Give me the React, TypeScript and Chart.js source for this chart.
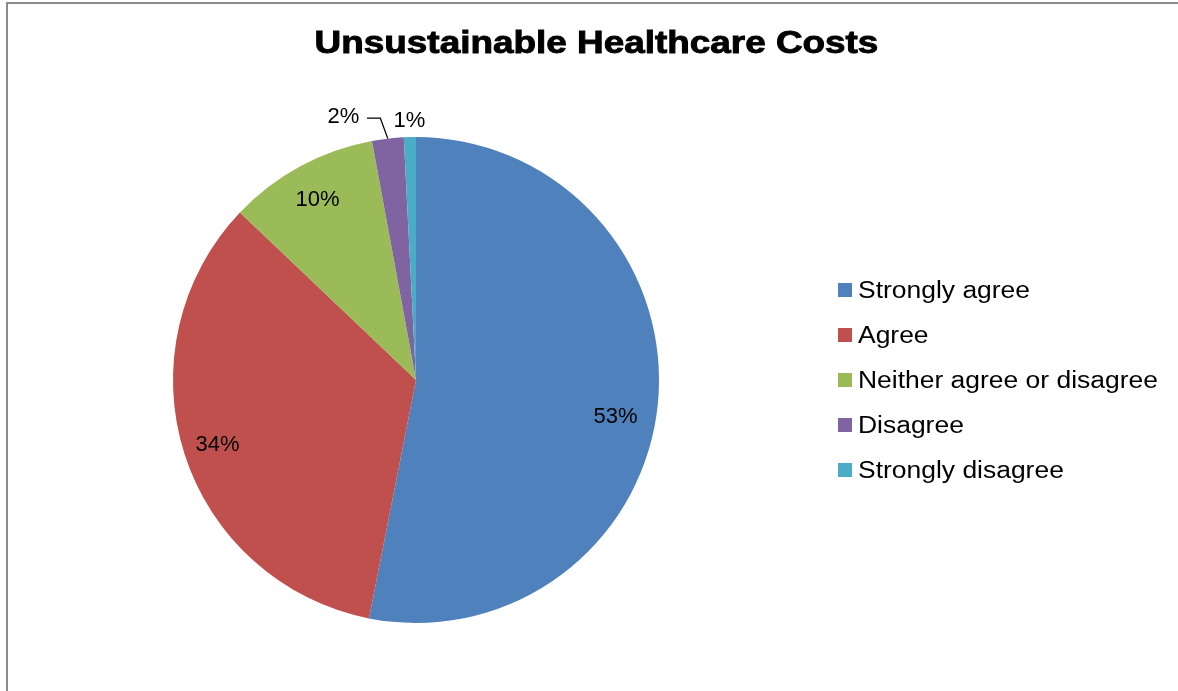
import React, { useEffect, useRef } from "react";
import { Chart, registerables } from "chart.js";

Chart.register(...registerables);

const title = "Unsustainable Healthcare Costs";
const categories = ["Strongly agree", "Agree", "Neither agree or disagree", "Disagree", "Strongly disagree"];
const values = [53.1, 34.0, 10.0, 2.1, 0.8];
const colors = ["#4F81BD", "#C0504D", "#9BBB59", "#8064A2", "#4BACC6"];

const FONT = '"Liberation Sans", Arial, Helvetica, sans-serif';

const overlayPlugin = {
  id: "overlay",
  beforeDraw(chart: any) {
    const ctx = chart.ctx;
    ctx.save();
    ctx.fillStyle = "#ffffff";
    ctx.fillRect(0, 0, chart.width, chart.height);
    ctx.strokeStyle = "#8c8c8c";
    ctx.lineWidth = 2;
    ctx.beginPath();
    ctx.moveTo(7, chart.height);
    ctx.lineTo(7, 3);
    ctx.lineTo(chart.width, 3);
    ctx.stroke();
    ctx.restore();
  },
  afterDraw(chart: any, _args: any, opts: any) {
    const ctx = chart.ctx;
    // Title
    ctx.save();
    ctx.fillStyle = "#000000";
    ctx.strokeStyle = "#000000";
    ctx.lineWidth = 0.9;
    ctx.font = `bold 31px ${FONT}`;
    ctx.textAlign = "center";
    ctx.textBaseline = "alphabetic";
    ctx.translate(opts.titleX, opts.titleY);
    ctx.scale(1.19, 1);
    ctx.fillText(title, 0, 0);
    ctx.strokeText(title, 0, 0);
    ctx.restore();

    // Legend
    ctx.save();
    ctx.font = `23px ${FONT}`;
    ctx.textBaseline = "alphabetic";
    ctx.textAlign = "left";
    categories.forEach((c, i) => {
      const yc = opts.legendY + i * opts.legendGap;
      ctx.fillStyle = colors[i];
      ctx.fillRect(opts.legendX, yc - 7, 14, 14);
      ctx.fillStyle = "#000000";
      ctx.save();
      ctx.translate(opts.legendX + 20, yc + 8);
      ctx.scale(1.15, 1);
      ctx.fillText(c, 0, 0);
      ctx.restore();
    });
    ctx.restore();

    // Data labels
    const meta = chart.getDatasetMeta(0);
    ctx.save();
    ctx.font = `22px ${FONT}`;
    ctx.textAlign = "center";
    ctx.textBaseline = "alphabetic";
    ctx.fillStyle = "#000000";
    meta.data.forEach((arc: any, i: number) => {
      const p = arc.getProps(["x", "y", "startAngle", "endAngle", "outerRadius"], true);
      const mid = (p.startAngle + p.endAngle) / 2;
      const pl = opts.placements[i];
      const text = Math.round(values[i]) + "%";
      let lx: number, ly: number;
      if (pl.leader) {
        const px = p.x + Math.cos(mid) * p.outerRadius;
        const py = p.y + Math.sin(mid) * p.outerRadius;
        lx = px + pl.dx;
        ly = py + pl.dy;
        ctx.save();
        ctx.strokeStyle = "#000000";
        ctx.lineWidth = 1.3;
        ctx.beginPath();
        ctx.moveTo(px, py);
        ctx.lineTo(px - 7.5, ly + 3);
        ctx.lineTo(lx + 23.5, ly + 3);
        ctx.stroke();
        ctx.restore();
      } else {
        lx = p.x + Math.cos(mid) * p.outerRadius * pl.f + (pl.dx || 0);
        ly = p.y + Math.sin(mid) * p.outerRadius * pl.f + (pl.dy || 0);
      }
      ctx.fillText(text, lx, ly + 8);
    });
    ctx.restore();
  },
};

export default function App() {
  const ref = useRef<HTMLCanvasElement | null>(null);
  useEffect(() => {
    if (!ref.current) return;
    const chart = new Chart(ref.current, {
      type: "pie",
      data: {
        labels: categories,
        datasets: [
          {
            data: values,
            backgroundColor: colors,
            borderWidth: 0,
          },
        ],
      },
      options: {
        responsive: false,
        animation: false,
        layout: { padding: { left: 173, top: 137, right: 519, bottom: 68 } },
        plugins: {
          legend: { display: false },
          title: { display: false },
          tooltip: { enabled: false },
          overlay: {
            titleX: 596.5,
            titleY: 53,
            legendX: 838,
            legendY: 290,
            legendGap: 45,
            placements: [
              { f: 0.85, dx: -6, dy: 15 },
              { f: 0.857 },
              { f: 0.85 },
              { leader: true, dx: -44.3, dy: -23.6 },
              { f: 1.075 },
            ],
          },
        } as any,
      },
      plugins: [overlayPlugin],
    });
    return () => chart.destroy();
  }, []);
  return (
    <div style={{ position: "fixed", left: 0, top: 0, width: 1178, height: 691, background: "#fff" }}>
      <canvas ref={ref} width={1178} height={691} style={{ display: "block", width: 1178, height: 691 }} />
    </div>
  );
}
